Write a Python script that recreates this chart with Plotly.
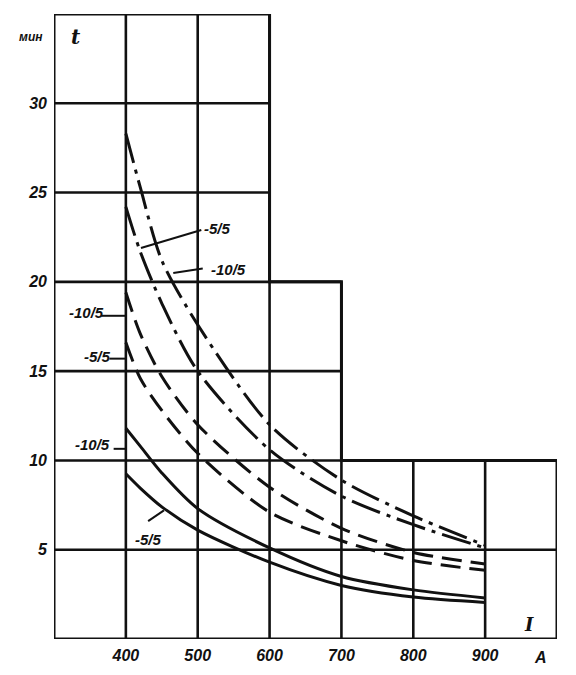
import plotly.graph_objects as go

# ---- data ----
current_a = [400, 420, 450, 500, 600, 700, 800, 900]
curve_dd_5 = [28.3, 25.3, 21.2, 17.6, 12.0, 8.9, 6.9, 5.25]     # dash-dot, -5/5
curve_dd_10 = [24.2, 21.7, 18.8, 15.0, 10.6, 8.0, 6.4, 5.1]     # dash-dot, -10/5
curve_da_10 = [19.4, 17.1, 14.7, 12.0, 8.5, 6.2, 4.85, 4.2]     # dashed, -10/5
curve_da_5 = [16.6, 14.6, 12.8, 10.4, 7.1, 5.5, 4.4, 3.85]      # dashed, -5/5
curve_so_10 = [11.8, 10.8, 9.3, 7.3, 5.1, 3.5, 2.75, 2.3]       # solid, -10/5
curve_so_5 = [9.25, 8.45, 7.4, 6.1, 4.3, 3.0, 2.35, 2.05]       # solid, -5/5

x_ticks = [400, 500, 600, 700, 800, 900]
y_ticks = [5, 10, 15, 20, 25, 30]

# stepped grid: vertical lines (x, top), horizontal lines (y, right end)
grid_vertical = [(400, 35), (500, 35), (600, 35), (700, 20), (800, 10), (900, 10)]
grid_horizontal = [(30, 600), (25, 600), (20, 700), (15, 700), (10, 1000), (5, 1000)]
outline_x = [300, 300, 600, 600, 700, 700, 1000, 1000, 300]
outline_y = [0, 35, 35, 20, 20, 10, 10, 0, 0]

# curve labels: text, text position, leader start, leader end
labels = [
    ("-5/5", 527, 23.0, 505, 22.9, 421, 21.9),
    ("-10/5", 543, 20.7, 507, 20.75, 466, 20.5),
    ("-10/5", 345, 18.3, 366, 18.1, 400, 18.1),
    ("-5/5", 360, 15.8, 377, 15.7, 400, 15.7),
    ("-10/5", 353, 10.9, 383, 10.65, 400, 10.65),
    ("-5/5", 431, 5.6, 431, 6.6, 453, 7.2),
]

BLACK = "#111111"
FONT = dict(family="Liberation Sans", size=16, color=BLACK, weight="bold", style="italic")

fig = go.Figure()

# grid
gx, gy = [], []
for x, top in grid_vertical:
    gx += [x, x, None]
    gy += [0, top, None]
for y, right in grid_horizontal:
    gx += [300, right, None]
    gy += [y, y, None]
fig.add_trace(go.Scatter(x=gx, y=gy, mode="lines", line=dict(color=BLACK, width=2.6),
                         hoverinfo="skip", showlegend=False, cliponaxis=False))
fig.add_trace(go.Scatter(x=outline_x, y=outline_y, mode="lines", line=dict(color=BLACK, width=3),
                         hoverinfo="skip", showlegend=False, cliponaxis=False))

dashdot = "30px,7px,4px,7px"
dashed = "20px,9px"
for ys, dash in [(curve_dd_5, dashdot), (curve_dd_10, dashdot),
                 (curve_da_10, dashed), (curve_da_5, dashed),
                 (curve_so_10, "solid"), (curve_so_5, "solid")]:
    fig.add_trace(go.Scatter(x=current_a, y=ys, mode="lines",
                             line=dict(color=BLACK, width=3, dash=dash, shape="spline", smoothing=0.8),
                             showlegend=False, cliponaxis=False))

# leaders
lx, ly = [], []
for _, tx, ty, x0, y0, x1, y1 in labels:
    lx += [x0, x1, None]
    ly += [y0, y1, None]
fig.add_trace(go.Scatter(x=lx, y=ly, mode="lines", line=dict(color=BLACK, width=2),
                         hoverinfo="skip", showlegend=False, cliponaxis=False))

annotations = []
for text, tx, ty, *_ in labels:
    annotations.append(dict(x=tx, y=ty, text=text, showarrow=False,
                            font=dict(FONT, size=15), xanchor="center", yanchor="middle"))
annotations += [
    dict(xref="paper", yref="paper", x=-0.046, y=0.963, text="мин", showarrow=False,
         xanchor="center", yanchor="middle", font=dict(FONT, size=12)),
    dict(x=330, y=33.7, text="t", showarrow=False, xanchor="center", yanchor="middle",
         font=dict(FONT, size=20, family="DejaVu Serif")),
    dict(x=961, y=0.8, text="I", showarrow=False, xanchor="center", yanchor="middle",
         font=dict(FONT, size=18, family="DejaVu Serif")),
    dict(xref="paper", yref="paper", x=0.968, y=-0.029, text="A", showarrow=False,
         xanchor="center", yanchor="middle", font=dict(FONT, size=16)),
]

fig.update_layout(
    width=576, height=675,
    margin=dict(l=46, r=27, t=6, b=44),
    paper_bgcolor="white", plot_bgcolor="white",
    annotations=annotations,
    xaxis=dict(range=[300, 1000], showgrid=False, zeroline=False, showline=False,
               tickvals=x_ticks, ticktext=[str(v) for v in x_ticks], ticks="",
               tickfont=FONT, ticklabelstandoff=5, automargin=False),
    yaxis=dict(range=[0, 35], showgrid=False, zeroline=False, showline=False,
               tickvals=y_ticks, ticktext=[str(v) for v in y_ticks], ticks="",
               tickfont=FONT, ticklabelstandoff=6, automargin=False),
)

fig.write_html("out.html")
